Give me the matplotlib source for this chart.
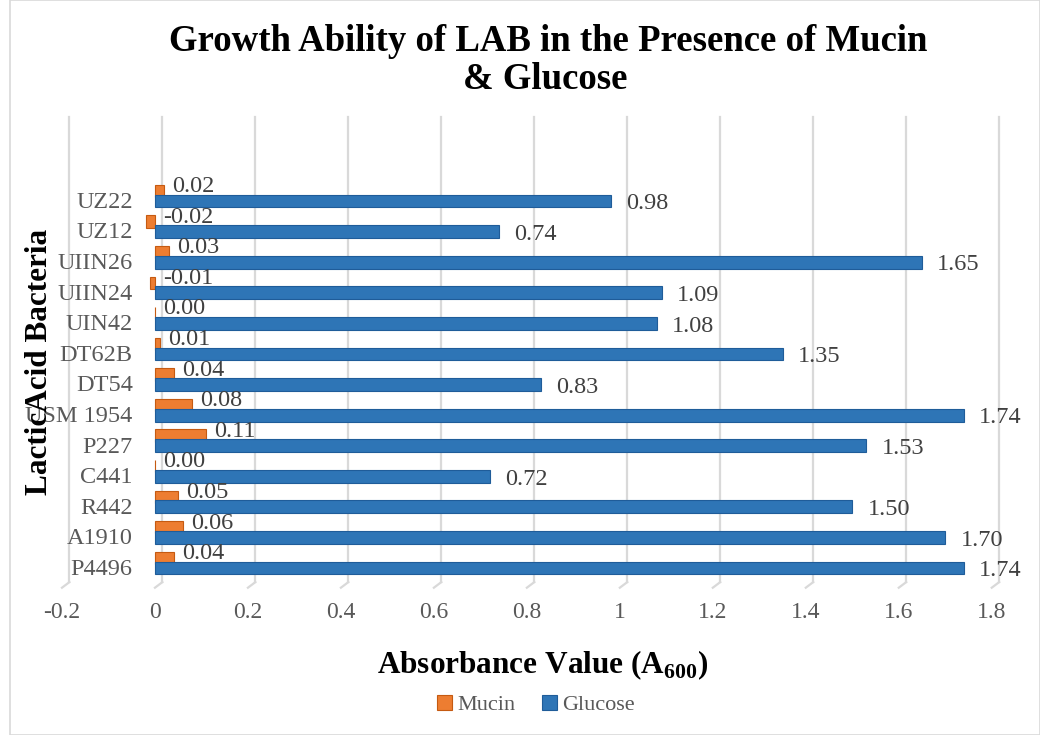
import matplotlib
matplotlib.use("Agg")
from matplotlib import pyplot as plt
from matplotlib.patches import Rectangle
import numpy as np

plt.rcParams['font.family'] = ['Liberation Serif', 'DejaVu Serif']
plt.rcParams['mathtext.fontset'] = 'custom'
plt.rcParams['mathtext.rm'] = 'Liberation Serif'
plt.rcParams['mathtext.bf'] = 'Liberation Serif:bold'

# bottom to top
strains = ['P4496', 'A1910', 'R442', 'C441', 'P227', 'USM 1954', 'DT54',
           'DT62B', 'UIN42', 'UIIN24', 'UIIN26', 'UZ12', 'UZ22']
mucin = [0.04, 0.06, 0.05, 0.00, 0.11, 0.08, 0.04, 0.01, 0.00, -0.01, 0.03, -0.02, 0.02]
glucose = [1.74, 1.70, 1.50, 0.72, 1.53, 1.74, 0.83, 1.35, 1.08, 1.09, 1.65, 0.74, 0.98]
xticks = [-0.2, 0, 0.2, 0.4, 0.6, 0.8, 1, 1.2, 1.4, 1.6, 1.8]

orange = '#ED7D31'
blue = '#2E75B6'
grey = '#595959'

fig = plt.figure(figsize=(10.4, 7.35), dpi=100)
ax = fig.add_axes([0.0596, 0.208, 0.894, 0.633])

y = np.arange(len(strains))
ax.barh(y + 0.33, mucin, height=0.4, color=orange, edgecolor='#C55A11',
        linewidth=0.8, label='Mucin', zorder=3)
ax.barh(y, glucose, height=0.42, color=blue, edgecolor='#1F5C99',
        linewidth=0.8, label='Glucose', zorder=4)

for i in range(len(strains)):
    ax.annotate(f'{glucose[i]:.2f}', (glucose[i], y[i]), xytext=(11, -2),
                textcoords='offset points', va='center', ha='left',
                fontsize=17.5, color='#404040', zorder=5)
    ax.annotate(f'{mucin[i]:.2f}', (max(mucin[i], 0), y[i] + 0.47), xytext=(6, 0),
                textcoords='offset points', va='center', ha='left',
                fontsize=17.5, color='#404040', zorder=5)
    # category labels sit just left of the zero line
    ax.annotate(strains[i], (0, y[i]), xytext=(-16, -1), textcoords='offset points',
                va='center', ha='right', fontsize=17.5, color=grey, zorder=2)

# back-wall gridlines (3D look)
off = 0.016
for t in xticks:
    ax.plot([t + off, t + off], [0.0, 1.0], transform=ax.get_xaxis_transform(),
            color='#D9D9D9', lw=1.6, zorder=1, clip_on=False)
    ax.plot([t, t + off], [-0.012, 0.0], transform=ax.get_xaxis_transform(),
            color='#D9D9D9', lw=1.6, zorder=1, clip_on=False)

ax.set_xlim(-0.2, 1.8)
ax.set_ylim(-0.46, 14.75)
ax.set_xticks(xticks)
ax.set_xticklabels([f'{t:g}' for t in xticks], fontsize=17, color=grey)
ax.set_yticks([])
ax.tick_params(length=0)
ax.tick_params(axis='x', pad=14)
for s in ax.spines.values():
    s.set_visible(False)

fig.text(0.527, 0.943, 'Growth Ability of LAB in the Presence of Mucin',
         ha='center', va='center', fontsize=26.5, fontweight='bold')
fig.text(0.524, 0.892, '& Glucose',
         ha='center', va='center', fontsize=26.5, fontweight='bold')
fig.text(0.522, 0.095, r'Absorbance Value (A$_{\mathbf{600}}$)', ha='center', va='center',
         fontsize=22.5, fontweight='bold')
fig.text(0.038, 0.507, 'LacticAcid Bacteria', ha='center', va='center', rotation=90,
         fontsize=22.5, fontweight='bold')

leg = fig.legend(loc='center', bbox_to_anchor=(0.515, 0.041), ncol=2, frameon=False,
                 fontsize=16, handlelength=0.7, handleheight=0.7, handletextpad=0.2,
                 columnspacing=1.2)
for txt in leg.get_texts():
    txt.set_color(grey)

fig.patches.append(Rectangle((0.01, 0.0), 0.99, 1.0, transform=fig.transFigure,
                             fill=False, edgecolor='#D9D9D9', lw=1.2))

fig.savefig('out.png', dpi=100)
